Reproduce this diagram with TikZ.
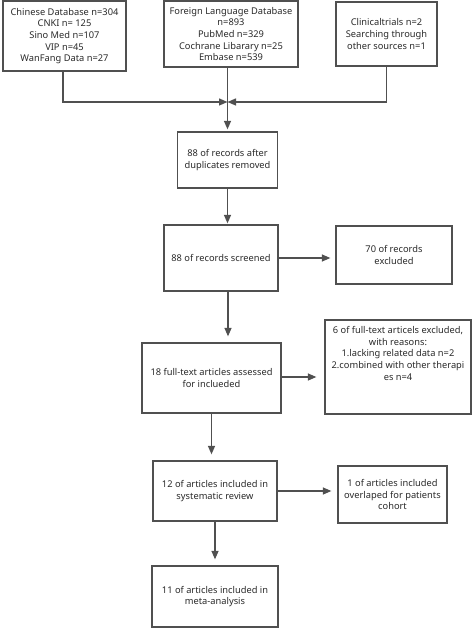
\documentclass[tikz,border=0pt]{standalone}
\usepackage{fontspec}
\setmainfont{Noto Sans}
\usetikzlibrary{arrows.meta}
\definecolor{linegray}{HTML}{505050}
\definecolor{txtgray}{HTML}{2A2A2A}
\tikzset{
  box/.style={draw=linegray, line width=1.3pt, rectangle, inner sep=0pt, align=center,
    text=txtgray, font=\fontsize{9.3}{11.6}\selectfont},
  conn/.style={draw=linegray, line width=1.3pt},
  arr/.style={conn, -{Triangle[length=8.5pt,width=7pt]}},
}
\begin{document}
\begin{tikzpicture}[x=1pt,y=-1pt]
\useasboundingbox (0,0) rectangle (472,628);
\fill[white] (0,0) rectangle (472,628);
\node[box, minimum width=123pt, minimum height=70pt] (b1) at (64.5,36) {Chinese Database n=304\\CNKI n= 125\\Sino Med n=107\\VIP n=45\\WanFang Data n=27};
\node[box, minimum width=134pt, minimum height=66pt] (b2) at (231,34) {Foreign Language Database\\n=893\\PubMed n=329\\Cochrane Libarary n=25\\Embase n=539};
\node[box, minimum width=101pt, minimum height=64pt] (b3) at (386.5,34) {Clinicaltrials n=2\\Searching through\\other sources n=1};
\node[box, minimum width=100pt, minimum height=56pt] (b4) at (227.5,160) {88 of records after\\duplicates removed};
\node[box, minimum width=114pt, minimum height=66pt] (b5) at (221,258) {88 of records screened};
\node[box, minimum width=116pt, minimum height=58pt] (b6) at (394,255) {70 of records\\excluded};
\node[box, minimum width=139pt, minimum height=70pt] (b7) at (211.5,378) {18 full-text articles assessed\\for inclueded};
\node[box, minimum width=146pt, minimum height=94pt] (b8) at (398,367) {};
\node[box, draw=none, anchor=north] (b8t) at (398,326) {6 of full-text articels excluded,\\with reasons:\\1.lacking related data n=2\\2.combined with other therapi\\es n=4};
\node[box, minimum width=124pt, minimum height=60pt] (b9) at (215,491) {12 of articles included in\\systematic review};
\node[box, minimum width=109pt, minimum height=57pt] (b10) at (392.5,494.5) {1 of articles included\\overlaped for patients\\cohort};
\node[box, minimum width=126pt, minimum height=61pt] (b11) at (215,596.5) {11 of articles included in\\meta-analysis};
\coordinate (j) at (227.5,102);
\draw[arr] ([xshift=-1.5pt]b1.south) |- (j);
\draw[arr] (b3.south) |- (j);
\draw[conn] (b2.south -| j) -- (j);
\draw[arr, shorten >=2pt] (j) -- (b4.north);
\draw[arr, shorten >=1pt] (b4.south) -- (b4.south |- b5.north);
\draw[arr, shorten >=5pt] (b5.east) -- (b5.east -| b6.west);
\draw[arr, shorten >=6pt] ([xshift=7pt]b5.south) -- ([xshift=7pt]b5.south |- b7.north);
\draw[arr, shorten >=8pt] ([yshift=1pt]b7.east) -- ([yshift=1pt]b7.east -| b8.west);
\draw[arr, shorten >=6pt] (b7.south) -- (b7.south |- b9.north);
\draw[arr, shorten >=6pt] (b9.east) -- (b9.east -| b10.west);
\draw[arr, shorten >=6pt] (b9.south) -- (b9.south |- b11.north);
\end{tikzpicture}
\end{document}
